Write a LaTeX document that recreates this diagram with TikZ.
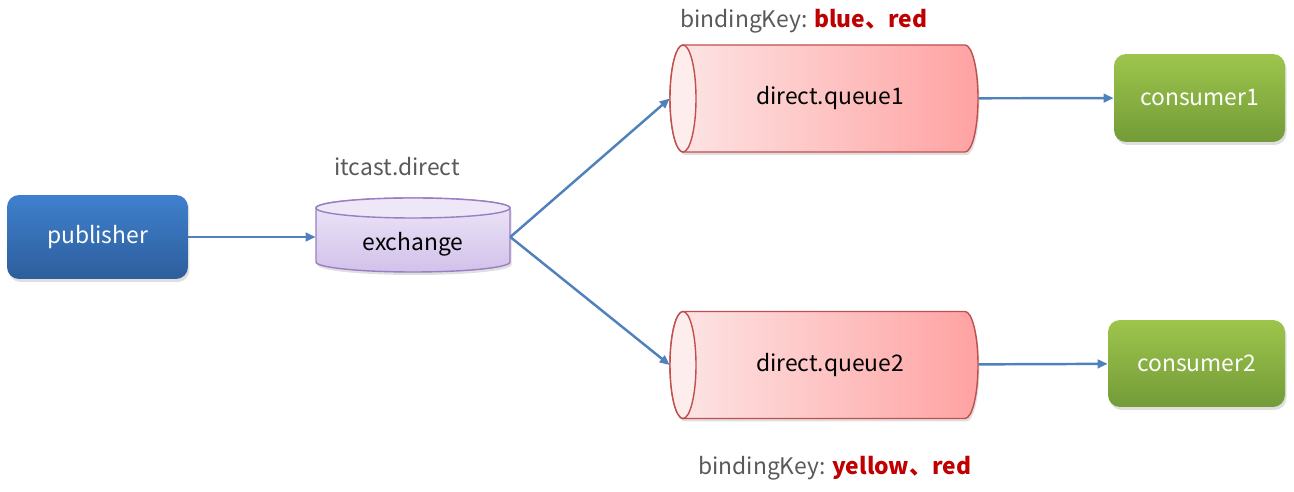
\documentclass[tikz,border=0pt]{standalone}
\usepackage{fontspec}
\setmainfont{Noto Sans CJK SC}
\usetikzlibrary{shadows,arrows.meta}

\definecolor{pubtop}{HTML}{3F80CE}
\definecolor{pubbot}{HTML}{2D5E9C}
\definecolor{contop}{HTML}{9DC54C}
\definecolor{conbot}{HTML}{739B38}
\definecolor{exctop}{HTML}{EEE7F8}
\definecolor{excbot}{HTML}{D2C1EA}
\definecolor{excline}{HTML}{9A7EC2}
\definecolor{queleft}{HTML}{FDE6E6}
\definecolor{queright}{HTML}{FFA2A2}
\definecolor{queline}{HTML}{C0504D}
\definecolor{linkblue}{HTML}{4F81BD}
\definecolor{keyred}{HTML}{C00000}
\definecolor{keygray}{HTML}{595959}

\begin{document}
\begin{tikzpicture}[x=0.02cm, y=0.02cm, font=\fontsize{13}{15}\selectfont,
    softshadow/.style={drop shadow={shadow xshift=0.03cm, shadow yshift=-0.06cm, opacity=0.25}},
    box/.style={rounded corners=0.24cm, text=white, softshadow},
    spot/.style={inner sep=0pt},
    link/.style={draw=linkblue, line width=1.4pt, -{Triangle[length=0.2cm, width=0.17cm]}}]
    \useasboundingbox (0,0) rectangle (1294,-492);

    % exchange
    \path[softshadow, top color=exctop, bottom color=excbot, draw=excline, line width=0.8pt]
        (316,-208) -- (316,-262) arc[start angle=180, end angle=360, x radius=97, y radius=10]
        -- (510,-208) arc[start angle=0, end angle=180, x radius=97, y radius=10] -- cycle;
    \draw[excline, fill=exctop, line width=0.8pt] (413,-208) ellipse[x radius=97, y radius=10];

    % queues
    \foreach \qy in {-98.5, -365} {
        \path[softshadow, left color=queleft, right color=queright, draw=queline, line width=0.8pt]
            (683,\qy+53.5) -- (965,\qy+53.5) arc[start angle=90, end angle=-90, x radius=13, y radius=53.5]
            -- (683,\qy-53.5) arc[start angle=270, end angle=90, x radius=13, y radius=53.5] -- cycle;
        \draw[queline, fill=queleft!70!white, line width=0.8pt] (683,\qy) ellipse[x radius=13, y radius=53.5];
    }

    \node[box, top color=pubtop, bottom color=pubbot, minimum width=3.62cm, minimum height=1.68cm] (publisher) at (97.5,-237) {publisher};
    \node[spot, minimum width=3.88cm, minimum height=1.48cm, text height=0.65cm, text depth=0.1cm] (exchange) at (413,-237) {exchange};
    \node[spot, minimum width=6.16cm, minimum height=2.14cm] (queue1) at (824,-98.5) {\hspace{0.24cm}direct.queue1};
    \node[spot, minimum width=6.16cm, minimum height=2.14cm] (queue2) at (824,-365) {\hspace{0.24cm}direct.queue2};
    \node[box, top color=contop, bottom color=conbot, minimum width=3.42cm, minimum height=1.76cm] (consumer1) at (1199.5,-98) {consumer1};
    \node[box, top color=contop, bottom color=conbot, minimum width=3.54cm, minimum height=1.74cm] (consumer2) at (1196.5,-363.5) {consumer2};

    \node[text=keygray] (exname) at (397,-167) {itcast.direct};
    \node[anchor=west, text=keygray, inner sep=0pt] (key1) at (680,-21) {bindingKey: \textcolor{keyred}{\bfseries blue、red}};
    \node[anchor=west, text=keygray, inner sep=0pt] (key2) at (698,-468) {bindingKey: \textcolor{keyred}{\bfseries yellow、red}};

    \draw[link] (publisher) -- (exchange);
    \draw[link] (exchange.east) -- (queue1.west);
    \draw[link] (exchange.east) -- (queue2.west);
    \draw[link] (queue1) -- (consumer1);
    \draw[link] (queue2) -- (consumer2);
\end{tikzpicture}
\end{document}
